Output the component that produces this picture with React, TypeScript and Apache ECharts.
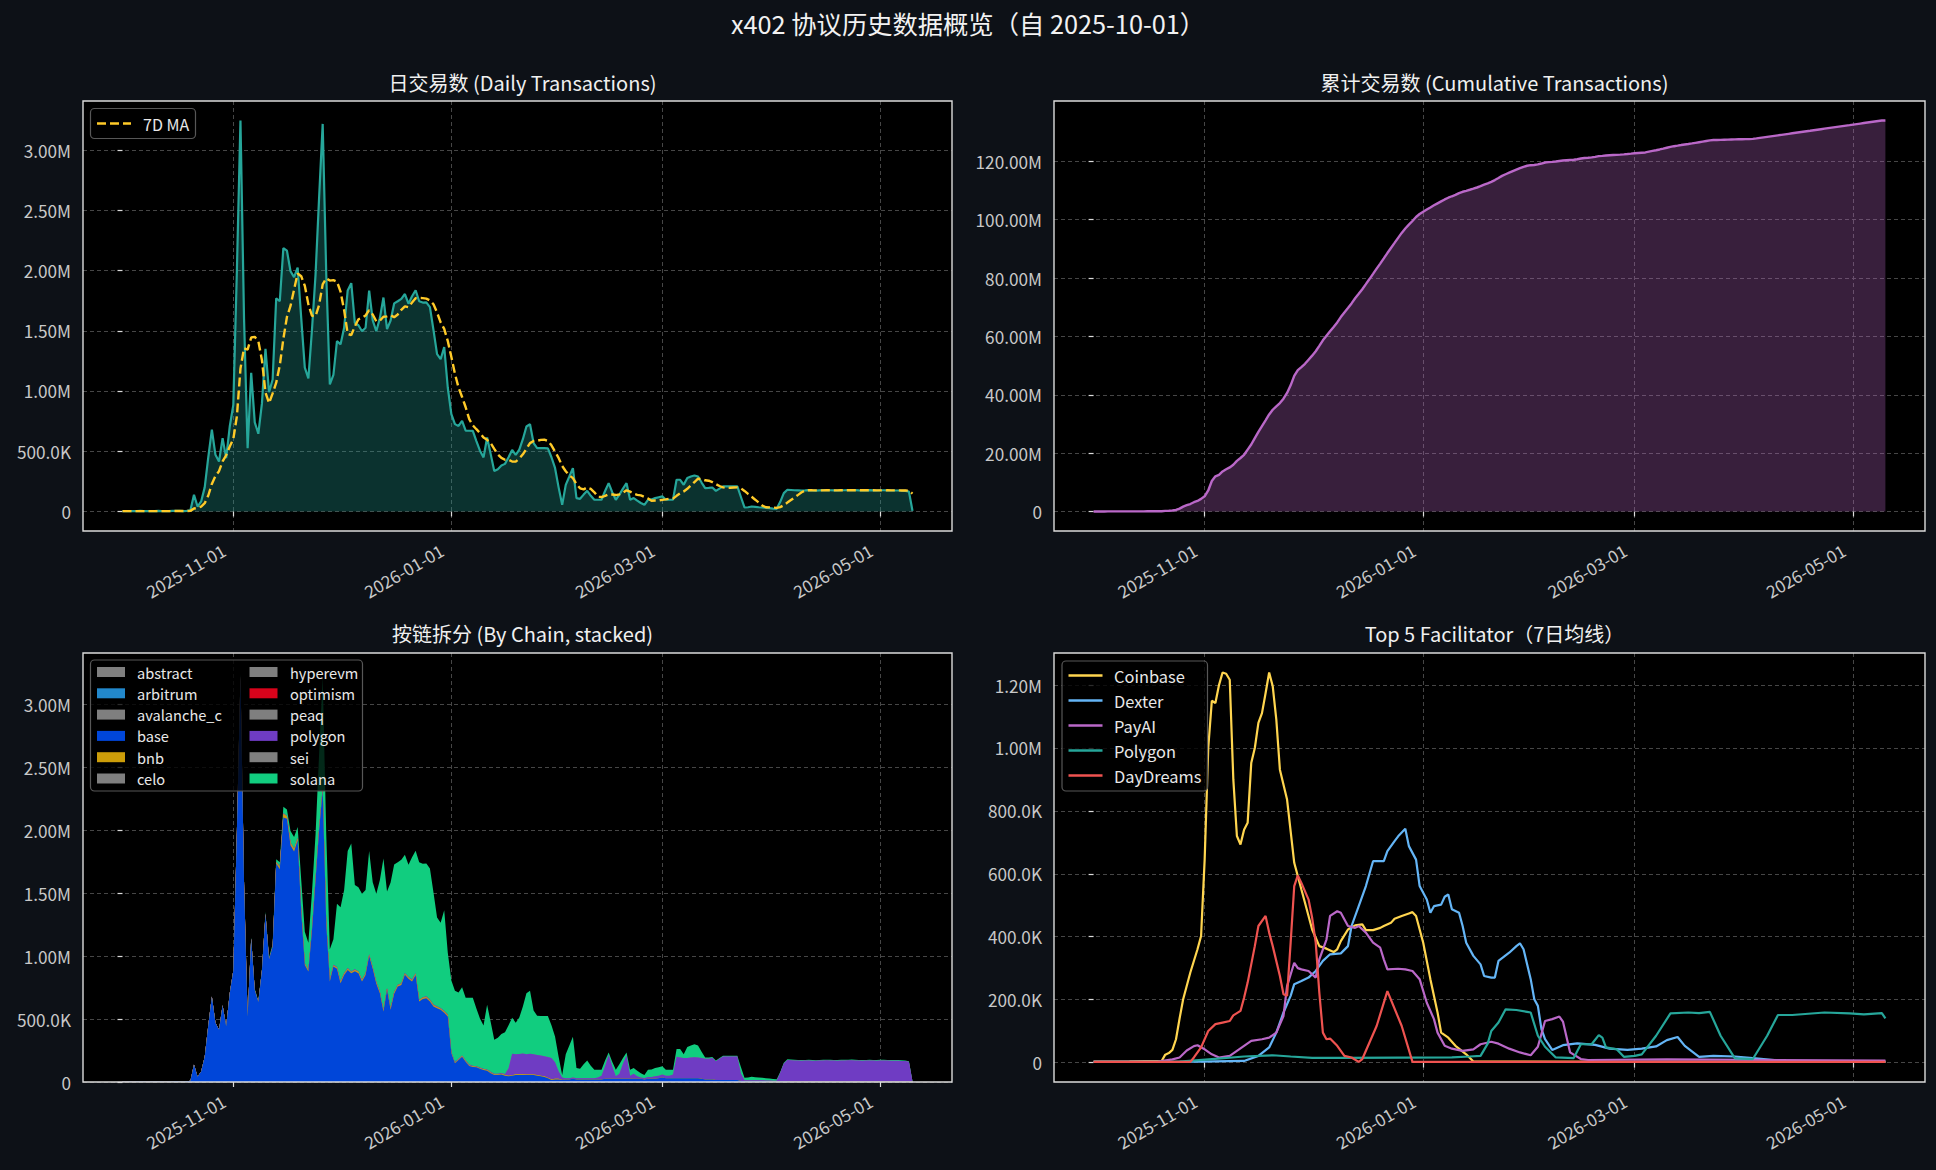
import React, { useEffect, useRef } from "react";
import * as echarts from "echarts";

// ---------------- data ----------------
const START_DATE = "2025-10-01";
const N_DAYS = 222; // 2025-10-01 .. 2026-05-10
const TICK_DATES = ["2025-11-01", "2026-01-01", "2026-03-01", "2026-05-01"];
const DAILY_TICKS = [0, 500000, 1000000, 1500000, 2000000, 2500000, 3000000];
const CUM_TICKS = [0, 20e6, 40e6, 60e6, 80e6, 100e6, 120e6];
const FAC_TICKS = [0, 200000, 400000, 600000, 800000, 1000000, 1200000];

const MAIN_TITLE = "x402 协议历史数据概览（自 2025-10-01）";
const PANEL_TITLES = [
  "日交易数 (Daily Transactions)",
  "累计交易数 (Cumulative Transactions)",
  "按链拆分 (By Chain, stacked)",
  "Top 5 Facilitator（7日均线）",
];
const MA_LABEL = "7D MA";

const CHAIN_NAMES = [
  "abstract", "arbitrum", "avalanche_c", "base", "bnb", "celo",
  "hyperevm", "optimism", "peaq", "polygon", "sei", "solana",
];

// daily transactions per chain, in thousands: [first day index, values...]
const BASE_K: [number, number[]] = [0, [
  3, 2, 3, 2, 3, 4, 3, 2, 3, 3,
  4, 3, 2, 3, 4, 5, 4, 3, 5, 10,
  138, 41, 83, 200, 450, 680, 470, 415, 609, 443,
  705, 885, 1990, 3225, 1590, 520, 1140, 730, 635, 885,
  1335, 975, 1075, 1735, 1690, 2100, 2090, 1880, 1830, 1920,
  1350, 930, 877, 1200, 1600, 2000, 2320, 1250, 798, 917,
  900, 785, 850, 890, 864, 880, 864, 798, 850, 1000,
  900, 780, 705, 560, 732, 573, 700, 758, 770, 851,
  820, 798, 850, 639, 660, 665, 639, 600, 586, 573,
  550, 520, 228, 148, 175, 201, 160, 127, 120, 117,
  105, 95, 90, 70, 56, 55, 60, 50, 45, 50,
  56, 56, 56, 55, 55, 55, 50, 45, 40, 30,
  16, 20, 20, 15, 20, 20, 25, 20, 20, 20,
  20, 20, 20, 20, 20, 25, 25, 25, 25, 25,
  25, 25, 25, 25, 25, 25, 20, 25, 25, 25,
  30, 35, 30, 30, 30, 30, 30, 30, 30, 30,
  30, 30, 25, 20, 20, 20, 15, 15, 15, 15,
  15, 15, 15, 8, 5, 5, 5, 5, 5, 5,
  5, 4, 4, 4, 3, 3, 3, 2, 2, 2,
  2, 2, 2, 2, 2, 2, 2, 2, 2, 2,
  2, 2, 2, 2, 2, 2, 2, 2, 2, 2,
  2, 2, 2, 2, 2, 2, 2, 2, 2, 2,
  2, 1,
]];

const SOLANA_K: [number, number[]] = [32, [
  10, 20, 10, 5, 10, 10, 10, 10,
  15, 15, 20, 25, 30, 50, 50, 90, 90, 85,
  235, 250, 213, 290, 350, 590, 880, 700, 242, 203,
  500, 585, 660, 930, 1016, 670, 666, 682, 660, 820,
  670, 700, 885, 1200, 768, 997, 1010, 972, 980, 939,
  890, 972, 970, 1091, 1060, 1055, 1041, 890, 704, 677,
  800, 490, 569, 567, 525, 541, 499, 532, 539, 458,
  388, 343, 514, 395, 271, 286, 309, 332, 340, 287,
  249, 291, 374, 485, 500, 347, 312, 315, 320, 325,
  259, 205, 115, 20, 191, 260, 325, 81, 75, 110,
  141, 100, 67, 62, 47, 45, 20, 35, 52, 75,
  45, 25, 47, 46, 45, 35, 25, 57, 60, 66,
  68, 65, 47, 47, 37, 63, 68, 31, 87, 95,
  103, 95, 50, 9, 10, 9, 6, 5, 5, 5,
  5, 5, 5, 52, 20, 22, 28, 25, 22, 20,
  18, 16, 14, 12, 7, 5, 5, 5, 5, 5,
  5, 5, 6, 5, 5, 5, 6, 5, 5, 5,
  5, 6, 5, 5, 5, 6, 5, 5, 5, 6,
  5, 5, 6, 5, 5, 5, 6, 5, 5, 5,
  5, 1,
]];

const POLYGON_K: [number, number[]] = [44, [
  5, 6, 5, 4, 5, 5,
  5, 4, 5, 6, 5, 5, 6, 5, 4, 5,
  5, 6, 5, 5, 6, 5, 5, 6, 5, 5,
  6, 5, 5, 6, 5, 5, 6, 5, 5, 6,
  5, 5, 6, 5, 5, 6, 5, 5, 6, 5,
  5, 6, 5, 5, 6, 5, 5, 6, 5, 5,
  6, 5, 5, 6, 5, 5, 6, 8, 60, 170,
  160, 160, 165, 160, 165, 160, 158, 160, 160, 165,
  170, 130, 60, 20, 10, 10, 10, 10, 10, 10,
  10, 10, 10, 15, 30, 100, 190, 100, 20, 40,
  120, 185, 25, 40, 20, 10, 10, 15, 15, 20,
  20, 25, 20, 20, 30, 170, 165, 160, 160, 165,
  166, 165, 165, 165, 165, 170, 150, 170, 188, 188,
  188, 188, 188, 60, 8, 8, 8, 8, 8, 8,
  7, 7, 6, 6, 70, 144, 172, 171, 169, 168,
  167, 168, 169, 167, 166, 168, 169, 170, 169, 168,
  167, 168, 169, 170, 171, 169, 168, 167, 168, 169,
  168, 167, 168, 169, 168, 167, 166, 167, 165, 164,
  158, 3,
]];

const BNB_K: [number, number[]] = [43, [
  10, 20, 30, 20, 20, 20, 15, 15, 10, 10,
  10, 9, 10, 11, 10, 10, 9, 10, 11, 10,
  10, 9, 10, 11, 10, 10, 9, 10, 11, 10,
  10, 9, 10, 11, 10, 10, 9, 10, 11, 10,
  10, 9, 10, 11, 10, 10, 9, 10, 11,
  5, 5, 4, 5, 6, 5, 5, 4, 5, 6,
  5, 5, 4, 5, 6, 5, 5, 4, 5, 6,
  5, 5, 4, 5, 6, 5, 5, 4, 5, 6,
  5,
]];

const NONE_K: [number, number[]] = [0, []];

const CHAIN_DATA: Record<string, [number, number[]]> = {
  abstract: NONE_K, arbitrum: NONE_K, avalanche_c: NONE_K, base: BASE_K,
  bnb: BNB_K, celo: NONE_K, hyperevm: NONE_K, optimism: NONE_K,
  peaq: NONE_K, polygon: POLYGON_K, sei: NONE_K, solana: SOLANA_K,
};

const CHAIN_COLORS: Record<string, string> = {
  abstract: "#7f7f7f", arbitrum: "#2288cc", avalanche_c: "#7f7f7f", base: "#0046d9",
  bnb: "#cc9d09", celo: "#7f7f7f", hyperevm: "#7f7f7f", optimism: "#d9031b",
  peaq: "#7f7f7f", polygon: "#6f3cc3", sei: "#7f7f7f", solana: "#11cd7f",
};

// Top-5 facilitators, 7-day averages, thousands: [day index, value]
const FAC_NAMES = ["Coinbase", "Dexter", "PayAI", "Polygon", "DayDreams"];
const FAC_COLORS = ["#ffd54f", "#64b5f6", "#ba68c8", "#26a69a", "#ef5350"];

const COINBASE_K = [[0, 3], [10, 4], [19, 5], [20, 25], [21, 30], [22, 40], [23, 74], [24, 140], [25, 201], [27, 286], [29, 360], [30, 402], [31, 645], [32, 1000], [33, 1150], [34, 1143], [35, 1200], [36, 1240], [37, 1236], [38, 1217], [39, 900], [40, 720], [41, 693], [42, 740], [43, 762], [44, 952], [45, 1000], [46, 1080], [47, 1111], [48, 1174], [49, 1240], [50, 1196], [51, 1090], [52, 931], [54, 836], [56, 635], [58, 550], [59, 508], [61, 423], [63, 370], [65, 362], [67, 351], [68, 360], [69, 386], [71, 423], [73, 436], [75, 439], [76, 421], [78, 421], [80, 428], [81, 434], [83, 444], [84, 457], [86, 466], [88, 474], [89, 478], [90, 466], [92, 381], [94, 265], [96, 159], [97, 95], [99, 79], [101, 53], [104, 26], [106, 3], [150, 2], [221, 2]];
const DEXTER_K = [[0, 2], [30, 3], [42, 5], [46, 21], [49, 48], [51, 95], [53, 159], [55, 212], [56, 249], [58, 259], [60, 270], [62, 291], [64, 323], [66, 344], [69, 347], [71, 370], [72, 434], [74, 497], [76, 561], [78, 640], [81, 640], [82, 672], [84, 704], [85, 719], [87, 743], [88, 688], [90, 645], [91, 561], [93, 518], [94, 476], [95, 497], [97, 502], [98, 527], [99, 534], [100, 487], [102, 476], [103, 434], [104, 381], [106, 339], [108, 312], [109, 275], [111, 270], [112, 270], [113, 323], [116, 349], [118, 370], [119, 379], [120, 360], [122, 265], [123, 201], [124, 180], [125, 106], [126, 74], [128, 40], [131, 55], [135, 61], [140, 56], [144, 44], [149, 40], [153, 44], [157, 51], [160, 71], [163, 81], [165, 53], [169, 18], [173, 21], [179, 19], [184, 14], [193, 5], [221, 3]];
const PAYAI_K = [[0, 2], [18, 3], [22, 10], [24, 16], [26, 38], [28, 52], [29, 55], [31, 42], [33, 26], [35, 16], [38, 21], [40, 37], [42, 53], [44, 69], [47, 74], [49, 79], [51, 95], [53, 148], [54, 243], [56, 317], [57, 300], [58, 296], [60, 291], [62, 270], [63, 328], [65, 391], [66, 466], [68, 481], [69, 476], [71, 434], [73, 428], [74, 434], [76, 413], [78, 381], [80, 365], [81, 328], [82, 296], [85, 298], [87, 296], [89, 291], [91, 265], [93, 190], [95, 138], [96, 95], [98, 53], [100, 44], [103, 37], [106, 42], [108, 58], [111, 66], [113, 60], [116, 44], [119, 32], [122, 23], [124, 50], [126, 132], [128, 138], [130, 146], [131, 130], [133, 32], [136, 11], [138, 8], [160, 10], [221, 6]];
const POLYGON_FAC_K = [[0, 2], [24, 3], [33, 11], [42, 19], [50, 23], [55, 19], [61, 15], [70, 15], [100, 16], [105, 19], [108, 21], [110, 60], [111, 100], [113, 127], [115, 169], [118, 167], [121, 161], [122, 159], [124, 85], [126, 50], [129, 16], [134, 14], [136, 58], [139, 58], [141, 87], [142, 79], [143, 48], [146, 42], [148, 18], [151, 21], [153, 26], [157, 85], [161, 156], [166, 159], [169, 157], [172, 161], [175, 85], [179, 13], [184, 11], [188, 85], [191, 151], [195, 151], [204, 159], [211, 156], [215, 153], [220, 157], [221, 140]];
const DAYDREAMS_K = [[0, 2], [27, 2], [28, 16], [30, 48], [32, 100], [34, 122], [36, 127], [38, 132], [39, 150], [41, 164], [42, 206], [43, 254], [45, 370], [46, 434], [48, 466], [49, 413], [50, 370], [52, 275], [53, 217], [54, 212], [55, 381], [56, 561], [57, 595], [58, 571], [60, 518], [61, 460], [62, 381], [63, 222], [64, 95], [65, 74], [66, 76], [68, 53], [70, 21], [72, 16], [74, 2], [75, 11], [79, 116], [82, 227], [86, 116], [89, 2], [221, 2]];
const FAC_DATA = [COINBASE_K, DEXTER_K, PAYAI_K, POLYGON_FAC_K, DAYDREAMS_K];

// ---------------- style ----------------
const BG = "#0d1117";
const FONT = "'Noto Sans CJK SC', 'Noto Sans', sans-serif";
const TICK_COLOR = "#c8c8c8";
const SPINE = "#dcdcdc";
const GRID_LINE = "#464646";
const LEGEND_EDGE = "#575757";

const DAY_MS = 86400000;
const dayOf = (s: string) =>
  Math.round((Date.parse(s + "T00:00:00Z") - Date.parse(START_DATE + "T00:00:00Z")) / DAY_MS);
const TICK_DAYS = TICK_DATES.map(dayOf);

function expand(seg: [number, number[]]): number[] {
  const arr: number[] = [];
  for (let i = 0; i < N_DAYS; i++) arr.push(0);
  seg[1].forEach((v, i) => {
    if (seg[0] + i < N_DAYS) arr[seg[0] + i] = v * 1000;
  });
  return arr;
}

function fmtCount(v: number): string {
  if (Math.abs(v) >= 1e6) return (v / 1e6).toFixed(2) + "M";
  if (Math.abs(v) >= 1e3) return (v / 1e3).toFixed(1) + "K";
  return v.toFixed(0);
}

function buildOption() {
  const chains = CHAIN_NAMES.map((n) => expand(CHAIN_DATA[n]));
  const total: number[] = [];
  for (let d = 0; d < N_DAYS; d++) {
    let s = 0;
    chains.forEach((c) => (s += c[d]));
    total.push(s);
  }
  // running stack tops (stackplot): top of layer i = sum of layers 0..i
  const stackTops: number[][] = [];
  chains.forEach((c, i) => {
    stackTops.push(c.map((v, d) => v + (i > 0 ? stackTops[i - 1][d] : 0)));
  });
  const cum: number[] = [];
  let run = 0;
  total.forEach((v) => { run += v; cum.push(run); });
  const ma: number[] = total.map((_, d) => {
    const from = Math.max(0, d - 6);
    let s = 0;
    for (let k = from; k <= d; k++) s += total[k];
    return s / (d - from + 1);
  });
  const facSeriesData = FAC_DATA.map((arr) => arr.map(([d, v]) => [d, v * 1000]));

  const maxTotal = Math.max(...total);
  const maxCum = Math.max(...cum);
  let maxFac = 0;
  facSeriesData.forEach((a) => a.forEach((p) => (maxFac = Math.max(maxFac, p[1]))));

  const xMin = -0.05 * (N_DAYS - 1);
  const xMax = (N_DAYS - 1) * 1.05;

  const grids = [
    { left: 83, top: 101, width: 869, height: 430 },
    { left: 1054, top: 101, width: 871, height: 430 },
    { left: 83, top: 653, width: 869, height: 429 },
    { left: 1054, top: 653, width: 871, height: 429 },
  ];
  const yRanges = [
    [-0.05 * maxTotal, 1.05 * maxTotal],
    [-0.05 * maxCum, 1.05 * maxCum],
    [0, 1.05 * maxTotal],
    [-0.05 * maxFac, 1.05 * maxFac],
  ];
  const yTicks = [DAILY_TICKS, CUM_TICKS, DAILY_TICKS, FAC_TICKS];

  const labelStyle = { color: TICK_COLOR, fontSize: 17.2, fontFamily: FONT };

  const xAxis = grids.map((_, i) => ({
    type: "value",
    gridIndex: i,
    min: xMin,
    max: xMax,
    axisLine: { show: false },
    axisTick: { show: true, customValues: TICK_DAYS, length: 5, lineStyle: { color: SPINE, width: 1.2 } },
    axisLabel: {
      ...labelStyle,
      customValues: TICK_DAYS,
      rotate: 30,
      margin: 12,
      padding: [0, 11, 0, 0],
      formatter: (v: number) => {
        const k = TICK_DAYS.indexOf(Math.round(v));
        return k >= 0 ? TICK_DATES[k] : "";
      },
    },
    splitLine: { show: true, lineStyle: { color: GRID_LINE, type: [4, 3], width: 1 } },
  }));

  const yAxis = grids.map((_, i) => ({
    type: "value",
    gridIndex: i,
    min: yRanges[i][0],
    max: yRanges[i][1],
    axisLine: { show: false },
    axisTick: { show: true, customValues: yTicks[i], length: 5, lineStyle: { color: SPINE, width: 1.2 } },
    axisLabel: { ...labelStyle, customValues: yTicks[i], margin: 12, formatter: (v: number) => fmtCount(v) },
    splitLine: { show: true, lineStyle: { color: GRID_LINE, type: [4, 3], width: 1 } },
  }));

  const series: any[] = [];
  series.push({
    type: "line", name: "Daily", xAxisIndex: 0, yAxisIndex: 0,
    data: total.map((v, d) => [d, v]), symbol: "none", showSymbol: false,
    lineStyle: { color: "#26a69a", width: 2.2 }, itemStyle: { color: "#26a69a" },
    areaStyle: { color: "#26a69a", opacity: 0.3 },
  });
  series.push({
    type: "line", name: MA_LABEL, xAxisIndex: 0, yAxisIndex: 0,
    data: ma.map((v, d) => [d, v]), symbol: "none", showSymbol: false,
    lineStyle: { color: "#ffca28", width: 2.4, type: [9, 4] }, itemStyle: { color: "#ffca28" },
  });
  series.push({
    type: "line", name: "Cumulative", xAxisIndex: 1, yAxisIndex: 1,
    data: cum.map((v, d) => [d, v]), symbol: "none", showSymbol: false,
    lineStyle: { color: "#ba68c8", width: 2.4 }, itemStyle: { color: "#ba68c8" },
    areaStyle: { color: "#ba68c8", opacity: 0.3 },
  });
  // stacked areas: draw the highest layer first, each lower layer painted over it
  for (let ci = CHAIN_NAMES.length - 1; ci >= 0; ci--) {
    const n = CHAIN_NAMES[ci];
    series.push({
      type: "line", name: n, xAxisIndex: 2, yAxisIndex: 2,
      data: stackTops[ci].map((v, d) => [d, v]), symbol: "none", showSymbol: false,
      lineStyle: { width: 0, color: CHAIN_COLORS[n] }, itemStyle: { color: CHAIN_COLORS[n] },
      areaStyle: { color: CHAIN_COLORS[n], opacity: 1 },
    });
  }
  FAC_NAMES.forEach((n, fi) => {
    series.push({
      type: "line", name: n, xAxisIndex: 3, yAxisIndex: 3,
      data: facSeriesData[fi], symbol: "none", showSymbol: false,
      lineStyle: { color: FAC_COLORS[fi], width: 2.2 }, itemStyle: { color: FAC_COLORS[fi] },
    });
  });

  // titles
  const title: any[] = [
    {
      text: MAIN_TITLE, left: 963, top: 5, textAlign: "center",
      textStyle: { color: "#f2f2f2", fontSize: 25.3, fontWeight: "normal", fontFamily: FONT },
    },
  ];
  const titleTop = [67, 67, 618, 618];
  grids.forEach((g, i) => {
    title.push({
      text: PANEL_TITLES[i], left: g.left + g.width / 2, top: titleTop[i],
      textAlign: "center",
      textStyle: { color: "#f0f0f0", fontSize: 20, fontWeight: "normal", fontFamily: FONT },
    });
  });

  // graphic: spines + legends
  const elements: any[] = [];
  grids.forEach((g) => {
    elements.push({
      type: "rect", z: 100, silent: true,
      shape: { x: g.left, y: g.top, width: g.width, height: g.height },
      style: { fill: "none", stroke: SPINE, lineWidth: 1.4 },
    });
  });
  const txt = (text: string, x: number, y: number, size: number) => ({
    type: "text", z: 101, silent: true, x, y,
    style: {
      text, fill: "#e8e8e8", fontSize: size, fontFamily: FONT,
      textAlign: "left", textVerticalAlign: "middle", align: "left", verticalAlign: "middle",
    },
  });
  // legend: 7D MA
  elements.push({
    type: "rect", z: 100, silent: true,
    shape: { x: 90.5, y: 108.5, width: 105, height: 30, r: 4 },
    style: { fill: "rgba(0,0,0,0.8)", stroke: LEGEND_EDGE, lineWidth: 1.2 },
  });
  elements.push({
    type: "line", z: 101, silent: true,
    shape: { x1: 97, y1: 123.5, x2: 131, y2: 123.5 },
    style: { stroke: "#ffca28", lineWidth: 2.6, lineDash: [9, 4] },
  });
  elements.push(txt(MA_LABEL, 143, 123.5, 16));
  // legend: chains (2 columns)
  elements.push({
    type: "rect", z: 100, silent: true,
    shape: { x: 90.5, y: 660, width: 272, height: 131, r: 4 },
    style: { fill: "rgba(0,0,0,0.8)", stroke: LEGEND_EDGE, lineWidth: 1.2 },
  });
  CHAIN_NAMES.forEach((n, i) => {
    const col = Math.floor(i / 6);
    const row = i % 6;
    const cy = 672 + row * 21.3;
    const px = col === 0 ? 97 : 249.5;
    const tx = col === 0 ? 137 : 290;
    elements.push({
      type: "rect", z: 101, silent: true,
      shape: { x: px, y: cy - 5, width: 28, height: 10 },
      style: { fill: CHAIN_COLORS[n] },
    });
    elements.push(txt(n, tx, cy, 14.6));
  });
  // legend: facilitators
  elements.push({
    type: "rect", z: 100, silent: true,
    shape: { x: 1062, y: 661, width: 145.5, height: 130, r: 4 },
    style: { fill: "rgba(0,0,0,0.8)", stroke: LEGEND_EDGE, lineWidth: 1.2 },
  });
  FAC_NAMES.forEach((n, i) => {
    const cy = 675.5 + i * 25;
    elements.push({
      type: "line", z: 101, silent: true,
      shape: { x1: 1068.5, y1: cy, x2: 1102.5, y2: cy },
      style: { stroke: FAC_COLORS[i], lineWidth: 2.6 },
    });
    elements.push(txt(n, 1114, cy, 16.4));
  });

  return {
    animation: false,
    backgroundColor: BG,
    textStyle: { fontFamily: FONT },
    title,
    grid: grids.map((g) => ({ ...g, show: true, backgroundColor: "#000000", borderWidth: 0, containLabel: false })),
    xAxis,
    yAxis,
    series,
    graphic: { elements },
  };
}

export default function App() {
  const ref = useRef<HTMLDivElement>(null);
  useEffect(() => {
    document.body.style.margin = "0";
    document.body.style.background = BG;
    const chart = echarts.init(ref.current as HTMLDivElement, undefined, { renderer: "svg", width: 1936, height: 1170 });
    chart.setOption(buildOption() as any);
    return () => chart.dispose();
  }, []);
  return <div ref={ref} style={{ width: 1936, height: 1170, background: BG }} />;
}
